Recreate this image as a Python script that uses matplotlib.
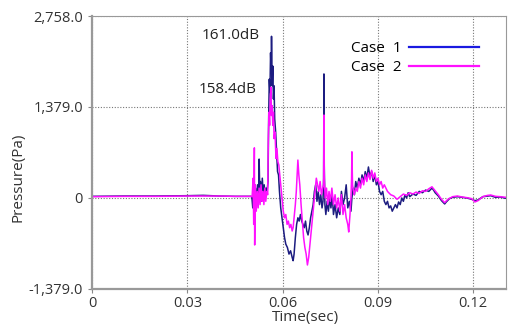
import numpy as np
import matplotlib.pyplot as plt
from matplotlib.lines import Line2D

plt.rcParams['font.family'] = ['Open Sans', 'DejaVu Sans']

# Case 1 (time in sec, pressure in Pa)
time_case1 = [0.000, 0.010, 0.020, 0.030, 0.035, 0.040, 0.045, 0.0500, 0.0503,
              0.0506, 0.0509, 0.0512, 0.0515, 0.0518, 0.0521, 0.0524, 0.0526, 0.0528, 0.0530,
              0.0533, 0.0536, 0.0539, 0.0542, 0.0545, 0.0548, 0.0551, 0.0554, 0.0556, 0.0558,
              0.0560, 0.0562, 0.0564, 0.0565, 0.0567, 0.0569, 0.0571, 0.0573, 0.0575, 0.0578,
              0.0581, 0.0584, 0.0587, 0.0590, 0.0594, 0.0598, 0.0602, 0.0606, 0.0610, 0.0615,
              0.0620, 0.0625, 0.0630, 0.0633, 0.0636, 0.0640, 0.0644, 0.0648, 0.0652, 0.0656,
              0.0660, 0.0664, 0.0668, 0.0672, 0.0676, 0.0680, 0.0684, 0.0688, 0.0692, 0.0696,
              0.0700, 0.0704, 0.0708, 0.0712, 0.0716, 0.0720, 0.0724, 0.0727, 0.0729, 0.0730,
              0.0731, 0.0733, 0.0736, 0.0740, 0.0744, 0.0748, 0.0752, 0.0756, 0.0760, 0.0765,
              0.0770, 0.0775, 0.0780, 0.0785, 0.0790, 0.0795, 0.0800, 0.0805, 0.0810, 0.0815,
              0.0818, 0.0822, 0.0826, 0.0830, 0.0835, 0.0840, 0.0845, 0.0850, 0.0855, 0.0860,
              0.0865, 0.0870, 0.0875, 0.0880, 0.0885, 0.0890, 0.0895, 0.0900, 0.0905, 0.0910,
              0.0915, 0.0920, 0.0925, 0.0930, 0.0935, 0.0940, 0.0945, 0.0950, 0.0955, 0.0960,
              0.0965, 0.0970, 0.0975, 0.0980, 0.0985, 0.0990, 0.0995, 0.1000, 0.1010, 0.1020,
              0.1030, 0.1040, 0.1050, 0.1060, 0.1070, 0.1075, 0.1080, 0.1090, 0.1100, 0.1110,
              0.1115, 0.1125, 0.1135, 0.1150, 0.1165, 0.1180, 0.1195, 0.1205, 0.1215, 0.1230,
              0.1245, 0.1255, 0.1270, 0.1285, 0.1303]
pressure_case1 = [25, 30, 30, 35, 40, 30, 25, 25, 20,
                  -150, 300, -250, 150, -100, 200, -50, 590, 100, 250,
                  -50, 300, 50, 200, 0, 150, 100, 250, 1200, 1800,
                  1600, 2200, 1900, 2450, 1700, 2000, 1500, 1700, 1200, 1000,
                  700, 400, 350, 100, -150, -300, -450, -600, -700, -750,
                  -850, -800, -900, -950, -850, -600, -400, -300, -350, -250,
                  -350, -400, -450, -350, -500, -560, -450, -300, -200, -100,
                  100, 200, -50, 100, -100, 50, -150, -50, 300, 1880,
                  500, -100, -250, -50, -200, 0, -150, 50, -250, -100,
                  -300, -150, -250, 100, -100, 0, 200, -150, -50, -200,
                  0, 150, 50, 250, 150, 300, 200, 350, 250, 400,
                  300, 470, 320, 400, 250, 350, 200, 250, 100, 50,
                  100, -50, -100, -50, -150, -120, -200, -150, -100, -150,
                  -60, -100, 0, -50, 50, 0, 80, 20, 60, 40,
                  100, 80, 120, 100, 150, 120, 80, 30, -40, -90,
                  -60, -10, 10, 20, 10, 0, -20, -40, -30, 20,
                  30, 35, 10, 15, -5]

# Case 2
time_case2 = [0.000, 0.010, 0.020, 0.030, 0.040, 0.045, 0.0500, 0.0504, 0.0507, 0.0509,
              0.0511, 0.0512, 0.0514, 0.0517, 0.0520, 0.0523, 0.0526, 0.0529, 0.0532, 0.0535,
              0.0538, 0.0541, 0.0544, 0.0547, 0.0550, 0.0553, 0.0555, 0.0557, 0.0559, 0.0561,
              0.0563, 0.0565, 0.0567, 0.0569, 0.0571, 0.0573, 0.0576, 0.0579, 0.0582, 0.0585,
              0.0588, 0.0591, 0.0594, 0.0598, 0.0602, 0.0606, 0.0610, 0.0614, 0.0618, 0.0622,
              0.0626, 0.0630, 0.0633, 0.0636, 0.0640, 0.0643, 0.0646, 0.0648, 0.0651, 0.0654,
              0.0658, 0.0662, 0.0666, 0.0670, 0.0674, 0.0678, 0.0682, 0.0686, 0.0690, 0.0694,
              0.0698, 0.0702, 0.0706, 0.0710, 0.0714, 0.0718, 0.0722, 0.0726, 0.0729, 0.0730,
              0.0731, 0.0734, 0.0738, 0.0742, 0.0746, 0.0750, 0.0755, 0.0760, 0.0765, 0.0770,
              0.0775, 0.0780, 0.0785, 0.0790, 0.0795, 0.0800, 0.0805, 0.0808, 0.0812, 0.0815,
              0.0817, 0.0818, 0.0820, 0.0825, 0.0830, 0.0835, 0.0840, 0.0845, 0.0850, 0.0855,
              0.0860, 0.0865, 0.0870, 0.0875, 0.0880, 0.0885, 0.0890, 0.0895, 0.0900, 0.0905,
              0.0910, 0.0915, 0.0920, 0.0930, 0.0940, 0.0950, 0.0960, 0.0970, 0.0980, 0.0990,
              0.1000, 0.1010, 0.1020, 0.1030, 0.1040, 0.1050, 0.1060, 0.1070, 0.1075, 0.1080,
              0.1090, 0.1100, 0.1110, 0.1120, 0.1135, 0.1150, 0.1165, 0.1180, 0.1195, 0.1205,
              0.1215, 0.1230, 0.1245, 0.1255, 0.1270, 0.1285, 0.1303]
pressure_case2 = [20, 25, 25, 30, 30, 25, 25, 20, 300, -400,
                  760, -712, 200, -200, 100, -150, 150, -100, 200, -50,
                  100, -100, 150, -50, 100, 50, 900, 1300, 1100, 1500,
                  1680, 1250, 1400, 1100, 1300, 900, 1000, 600, 750, 550,
                  500, 350, 200, 0, -200, -300, -250, -400, -350, -450,
                  -400, -500, -450, -300, -100, 100, 400, 575, 350, 200,
                  -100, -350, -600, -750, -850, -1015, -900, -700, -500, -300,
                  -100, 100, 300, 200, 100, 250, 50, 150, 200, 1258,
                  300, 0, 150, -100, 100, -50, 150, -100, 50, -150,
                  0, -200, 50, -250, -100, -300, -400, -515, -250, 0,
                  300, 700, 200, 50, 150, 100, 250, 150, 300, 200,
                  350, 250, 380, 280, 420, 300, 380, 250, 300, 200,
                  250, 150, 200, 100, 50, 30, -20, 20, 60, 40,
                  80, 60, 90, 70, 110, 100, 140, 170, 140, 110,
                  50, -20, -70, -20, 20, 30, 15, 5, -10, -60,
                  -40, 20, 40, 45, 25, 20, 10]

x_ticks = [0, 0.03, 0.06, 0.09, 0.12]
x_tick_labels = ["0", "0.03", "0.06", "0.09", "0.12"]
y_ticks = [-1379.0, 0, 1379.0, 2758.0]
y_tick_labels = ["-1,379.0", "0", "1,379.0", "2,758.0"]
peak_labels = ["161.0dB", "158.4dB"]

fig = plt.figure(figsize=(5.08, 3.27), dpi=100)
ax = fig.add_axes([92/508, 1 - 289/327, 414/508, 273/327])

ax.plot(time_case1, pressure_case1, color="#1c1c80", lw=1.1)
ax.plot(time_case2, pressure_case2, color="#ff10ff", lw=1.1)

ax.set_xlim(0, 0.1303)
ax.set_ylim(-1379.0, 2758.0)
ax.set_xticks(x_ticks)
ax.set_xticklabels(x_tick_labels)
ax.set_yticks(y_ticks)
ax.set_yticklabels(y_tick_labels)
ax.tick_params(labelsize=10.5, colors="#333333", length=3, color="#888888")
ax.tick_params(axis="x", pad=2)
ax.grid(True, linestyle=(0, (1, 1.5)), color="#777777", lw=0.8)
for s in ax.spines.values():
    s.set_color("#999999")
ax.spines["left"].set_linewidth(1.6)
ax.spines["bottom"].set_linewidth(1.6)

ax.text(0.0345, 2470, peak_labels[0], fontsize=11, color="#222222", va="center")
ax.text(0.0337, 1640, peak_labels[1], fontsize=11, color="#222222", va="center")

handles = [Line2D([], [], color="#1a1ae0", lw=1.6), Line2D([], [], color="#ff10ff", lw=1.6)]
ax.legend(handles, ["Case  1", "Case  2"], loc="upper right", bbox_to_anchor=(0.95, 0.93),
          frameon=False, markerfirst=False, handlelength=4.6, handletextpad=0.5,
          labelspacing=0.25, fontsize=11, borderaxespad=0)

fig.text(305/508, 1 - 317/327, "Time(sec)", fontsize=11, color="#333333", ha="center", va="center")
fig.text(18/508, 1 - 177/327, "Pressure(Pa)", fontsize=11, color="#333333", ha="center",
         va="center", rotation=90)

plt.savefig("out.png", dpi=100)
